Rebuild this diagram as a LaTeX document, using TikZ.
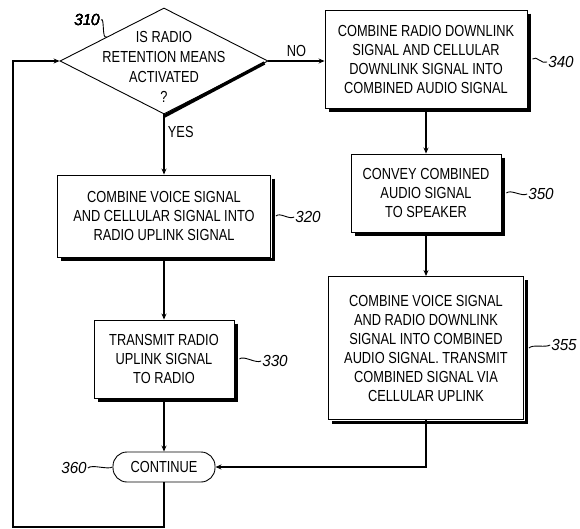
\documentclass[tikz,border=0pt]{standalone}
\usepackage{fontspec}
\usepackage{tikz}
\usetikzlibrary{positioning,calc,arrows.meta,shapes.geometric}
\newfontfamily\flowfont{Liberation Sans}[FakeStretch=0.8]
\newfontfamily\reffont{Liberation Sans}[FakeStretch=0.95]
\tikzset{>={Stealth[length=6pt,width=5pt]}}
\tikzset{
  stepbox/.style={draw,fill=white,line width=0.9pt,align=center,inner sep=0pt,
    font=\flowfont\fontsize{16}{19}\selectfont},
  reflabel/.style={font=\reffont\itshape\fontsize{16}{18}\selectfont,inner sep=1pt},
  shadowline/.style={line width=3.4pt},
  lead/.style={line width=0.9pt},
  flow/.style={line width=1.2pt}
}
\newcommand*{\reftick}[2]{\draw[lead] (#1) .. controls ++(4,-4) and ++(-5,3) .. (#2);}
\newcommand*{\boxshadow}[1]{\draw[shadowline] ($(#1.north east)+(2.3,4)$) |- ($(#1.south west)+(4,2.3)$);}

\begin{document}
\begin{tikzpicture}[x=1pt,y=-1pt]
\useasboundingbox (0,0) rectangle (580,529);
% decision
\node[draw,fill=white,diamond,line width=0.9pt,inner sep=0pt,
  minimum width=208pt,minimum height=106pt] (dia) at (164,61) {};
\draw[shadowline] ($(dia.east)+(-4,2)$) -- ($(dia.south)+(0,1.8)$);
\node[align=center,font=\flowfont\fontsize{16}{20}\selectfont] (diatxt) at (164,67)
  {IS RADIO\\RETENTION MEANS\\ACTIVATED\\?};
% left column
\node[stepbox,minimum width=213pt,minimum height=82pt] (b320) at (164,216)
  {COMBINE VOICE SIGNAL\\AND CELLULAR SIGNAL INTO\\RADIO UPLINK SIGNAL};
\node[stepbox,minimum width=140pt,minimum height=78pt] (b330) at (164,359)
  {TRANSMIT RADIO\\UPLINK SIGNAL\\TO RADIO};
\node[draw,fill=white,line width=0.9pt,rounded corners=14pt,minimum width=102pt,minimum height=30pt,
  inner sep=0pt,font=\flowfont\fontsize{16}{18}\selectfont] (cont) at (164,467) {CONTINUE};
% right column
\node[stepbox,minimum width=202pt,minimum height=98pt] (b340) at (426,59)
  {COMBINE RADIO DOWNLINK\\SIGNAL AND CELLULAR\\DOWNLINK SIGNAL INTO\\COMBINED AUDIO SIGNAL};
\node[stepbox,minimum width=150pt,minimum height=78pt] (b350) at (426,193)
  {CONVEY COMBINED\\AUDIO SIGNAL\\TO SPEAKER};
\node[stepbox,minimum width=195pt,minimum height=143pt] (b355) at (426,348)
  {COMBINE VOICE SIGNAL\\AND RADIO DOWNLINK\\SIGNAL INTO COMBINED\\AUDIO SIGNAL. TRANSMIT\\COMBINED SIGNAL VIA\\CELLULAR UPLINK};
\foreach \b in {b320,b330,b340,b350,b355}
  \boxshadow{\b}
% reference numbers
\node[reflabel] (r310) at (87,20) {310};
\node[reflabel] (r320) at (308,217) {320};
\node[reflabel] (r330) at (275,361) {330};
\node[reflabel] (r340) at (561,62) {340};
\node[reflabel] (r350) at (541,194) {350};
\node[reflabel] (r355) at (564,345) {355};
\node[reflabel] (r360) at (74,468) {360};
\reftick{r310.east}{$(dia.north)!0.55!(dia.west)$}
\reftick{$(b320.east)+(5,0)$}{r320.west}
\reftick{$(b330.east)+(5,0)$}{r330.west}
\reftick{$(b340.east)+(5,0)$}{r340.west}
\reftick{$(b350.east)+(5,0)$}{r350.west}
\reftick{$(b355.east)+(5,0)$}{r355.west}
\reftick{r360.east}{cont.west}
% connectors
\draw[flow,->] (dia.east) -- node[above,font=\flowfont\fontsize{16}{18}\selectfont] (no) {NO} (b340.west |- dia.east);
\draw[flow,->] (dia.south) -- node[right,pos=0.3,font=\flowfont\fontsize{16}{18}\selectfont] (yes) {YES} (b320.north);
\draw[flow,->] (b320.south) -- (b330.north);
\draw[flow,->] (b330.south) -- (cont.north);
\draw[flow,->] (b340.south) -- (b350.north);
\draw[flow,->] (b350.south) -- (b355.north);
\draw[flow,->] (b355.south) |- (cont.east);
\coordinate (loop) at (13,527);
\draw[flow,->] (cont.south) |- (loop) |- (dia.west);
\end{tikzpicture}
\end{document}
